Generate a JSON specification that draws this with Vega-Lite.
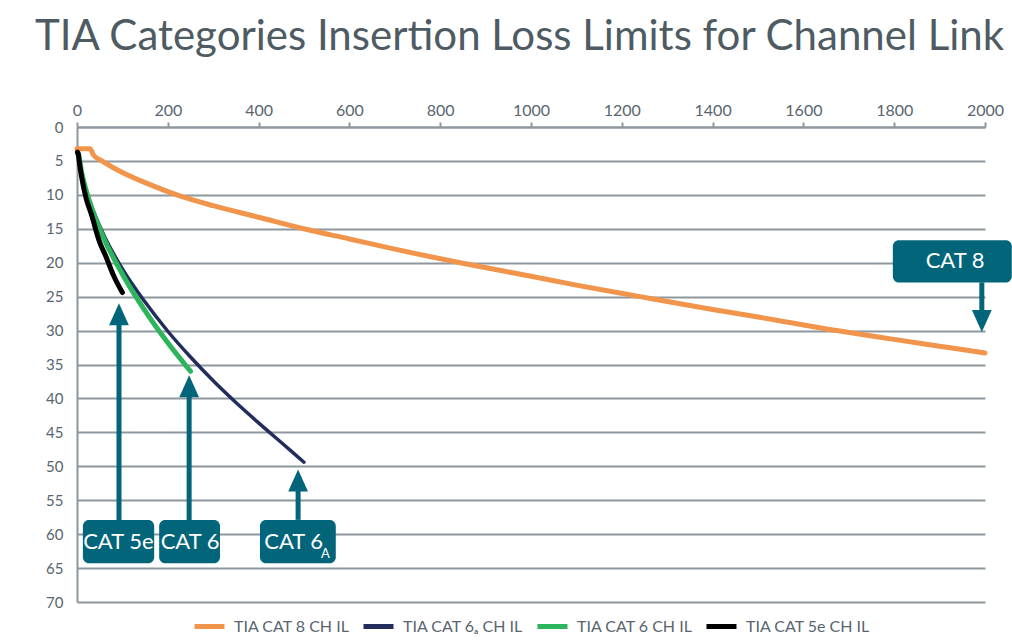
{
  "$schema": "https://vega.github.io/schema/vega-lite/v6.json",
  "width": 908,
  "height": 475,
  "autosize": {"type": "none"},
  "padding": {"left": 77, "top": 127, "right": 27, "bottom": 41},
  "background": "white",
  "config": {
    "view": {"stroke": null},
    "font": "Lato",
    "axis": {"labelFont": "Lato", "labelColor": "#59656E", "labelFontSize": 16, "domainColor": "#8E979E", "domainWidth": 2, "tickColor": "#8E979E", "tickWidth": 2, "gridColor": "#8E979E", "gridWidth": 2, "title": null, "labelOverlap": false, "labelFlush": false}
  },
  "title": {
    "text": "TIA Categories Insertion Loss Limits for Channel Link",
    "anchor": "start",
    "frame": "group",
    "dx": -42,
    "offset": 10,
    "baseline": "alphabetic",
    "font": "Lato",
    "fontSize": 42,
    "fontWeight": "normal",
    "color": "#4E5B63"
  },
  "datasets": {
    "curves": [
      {"series": "CAT 8", "f": 0, "il": 3.2},
      {"series": "CAT 8", "f": 29, "il": 3.2},
      {"series": "CAT 8", "f": 36, "il": 4.1},
      {"series": "CAT 8", "f": 55, "il": 5.0},
      {"series": "CAT 8", "f": 80, "il": 6.0},
      {"series": "CAT 8", "f": 100, "il": 6.7},
      {"series": "CAT 8", "f": 150, "il": 8.2},
      {"series": "CAT 8", "f": 220, "il": 10.0},
      {"series": "CAT 8", "f": 300, "il": 11.6},
      {"series": "CAT 8", "f": 400, "il": 13.3},
      {"series": "CAT 8", "f": 499, "il": 15.0},
      {"series": "CAT 8", "f": 600, "il": 16.5},
      {"series": "CAT 8", "f": 700, "il": 18.0},
      {"series": "CAT 8", "f": 844, "il": 20.0},
      {"series": "CAT 8", "f": 1000, "il": 22.0},
      {"series": "CAT 8", "f": 1100, "il": 23.3},
      {"series": "CAT 8", "f": 1240, "il": 25.0},
      {"series": "CAT 8", "f": 1400, "il": 26.9},
      {"series": "CAT 8", "f": 1500, "il": 28.0},
      {"series": "CAT 8", "f": 1673, "il": 30.0},
      {"series": "CAT 8", "f": 1800, "il": 31.3},
      {"series": "CAT 8", "f": 1900, "il": 32.3},
      {"series": "CAT 8", "f": 2000, "il": 33.3},
      {"series": "CAT 6A", "f": 1, "il": 3.9},
      {"series": "CAT 6A", "f": 3, "il": 4.0},
      {"series": "CAT 6A", "f": 4, "il": 4.2},
      {"series": "CAT 6A", "f": 10, "il": 6.5},
      {"series": "CAT 6A", "f": 20, "il": 9.2},
      {"series": "CAT 6A", "f": 31.25, "il": 11.5},
      {"series": "CAT 6A", "f": 50, "il": 14.6},
      {"series": "CAT 6A", "f": 62.5, "il": 16.4},
      {"series": "CAT 6A", "f": 100, "il": 20.9},
      {"series": "CAT 6A", "f": 150, "il": 25.8},
      {"series": "CAT 6A", "f": 200, "il": 30.1},
      {"series": "CAT 6A", "f": 250, "il": 33.9},
      {"series": "CAT 6A", "f": 300, "il": 37.4},
      {"series": "CAT 6A", "f": 350, "il": 40.6},
      {"series": "CAT 6A", "f": 400, "il": 43.6},
      {"series": "CAT 6A", "f": 450, "il": 46.5},
      {"series": "CAT 6A", "f": 500, "il": 49.4},
      {"series": "CAT 6", "f": 1, "il": 3.9},
      {"series": "CAT 6", "f": 3, "il": 4.0},
      {"series": "CAT 6", "f": 4, "il": 4.2},
      {"series": "CAT 6", "f": 10, "il": 6.6},
      {"series": "CAT 6", "f": 20, "il": 9.3},
      {"series": "CAT 6", "f": 31.25, "il": 11.7},
      {"series": "CAT 6", "f": 50, "il": 15.0},
      {"series": "CAT 6", "f": 62.5, "il": 16.9},
      {"series": "CAT 6", "f": 100, "il": 21.7},
      {"series": "CAT 6", "f": 150, "il": 27.1},
      {"series": "CAT 6", "f": 200, "il": 31.8},
      {"series": "CAT 6", "f": 250, "il": 36.0},
      {"series": "CAT 5e", "f": 1, "il": 3.7},
      {"series": "CAT 5e", "f": 3, "il": 4.0},
      {"series": "CAT 5e", "f": 4, "il": 4.6},
      {"series": "CAT 5e", "f": 10, "il": 7.3},
      {"series": "CAT 5e", "f": 20, "il": 10.5},
      {"series": "CAT 5e", "f": 31.25, "il": 12.8},
      {"series": "CAT 5e", "f": 50, "il": 17.0},
      {"series": "CAT 5e", "f": 62.5, "il": 18.9},
      {"series": "CAT 5e", "f": 80, "il": 21.8},
      {"series": "CAT 5e", "f": 100, "il": 24.4}
    ],
    "boxes": [
      {"label": "CAT 5e", "x1": 13, "x2": 170, "y1": 57.9, "y2": 64.3, "tx": 91, "ty": 61.1},
      {"label": "CAT 6", "x1": 181, "x2": 315, "y1": 57.9, "y2": 64.3, "tx": 249, "ty": 61.1},
      {"label": "CAT 6", "x1": 403, "x2": 570, "y1": 57.9, "y2": 64.3, "tx": 477, "ty": 61.1},
      {"label": "CAT 8", "x1": 1797, "x2": 2059, "y1": 16.7, "y2": 22.9, "tx": 1934, "ty": 19.8}
    ],
    "subs": [
      {"label": "A", "tx": 547, "ty": 62.9}
    ],
    "shafts": [
      {"ax": 92.5, "a1": 28, "a2": 57.9, "dir": "up", "hy": 27.6},
      {"ax": 247, "a1": 38.5, "a2": 57.9, "dir": "up", "hy": 38.2},
      {"ax": 487, "a1": 52.5, "a2": 57.9, "dir": "up", "hy": 52.1},
      {"ax": 1993, "a1": 22.9, "a2": 28.3, "dir": "down", "hy": 28.6}
    ]
  },
  "layer": [
    {
      "data": {"name": "curves"},
      "mark": {"type": "line", "interpolate": "monotone", "strokeCap": "round"},
      "encoding": {
        "x": {"field": "f", "type": "quantitative", "scale": {"domain": [0, 2000], "nice": false}, "axis": {"orient": "top", "values": [0, 200, 400, 600, 800, 1000, 1200, 1400, 1600, 1800, 2000], "format": "d", "grid": false, "tickSize": 5, "labelPadding": 4}},
        "y": {"field": "il", "type": "quantitative", "scale": {"domain": [0, 70], "reverse": true, "nice": false}, "axis": {"values": [0, 5, 10, 15, 20, 25, 30, 35, 40, 45, 50, 55, 60, 65, 70], "grid": true, "ticks": false, "labelPadding": 14, "labelFontSize": 15}},
        "color": {
          "field": "series", "type": "nominal",
          "scale": {"domain": ["CAT 8", "CAT 6A", "CAT 6", "CAT 5e"], "range": ["#F0954B", "#222D5C", "#2DB55D", "#000000"]},
          "legend": {
            "orient": "none", "legendX": 115, "legendY": 482, "direction": "horizontal", "title": null,
            "symbolType": "stroke", "symbolStrokeWidth": 5, "symbolSize": 900, "gridAlign": "none",
            "labelFont": "Lato", "labelFontSize": 16, "labelColor": "#59656E", "labelOffset": 7, "columnPadding": 3,
            "labelExpr": "datum.label == 'CAT 6A' ? 'TIA CAT 6ₐ CH IL' : 'TIA ' + datum.label + ' CH IL'"
          }
        },
        "strokeWidth": {"condition": {"test": "datum.series == 'CAT 6A'", "value": 3.5}, "value": 5}
      }
    },
    {
      "data": {"name": "shafts"},
      "mark": {"type": "rule", "color": "#03657A", "strokeWidth": 5},
      "encoding": {
        "x": {"field": "ax", "type": "quantitative", "axis": {"orient": "top", "values": [0, 200, 400, 600, 800, 1000, 1200, 1400, 1600, 1800, 2000], "format": "d", "grid": false, "tickSize": 5, "labelPadding": 4}},
        "y": {"field": "a1", "type": "quantitative", "axis": {"values": [0, 5, 10, 15, 20, 25, 30, 35, 40, 45, 50, 55, 60, 65, 70], "grid": true, "ticks": false, "labelPadding": 14, "labelFontSize": 15}},
        "y2": {"field": "a2"}
      }
    },
    {
      "data": {"name": "shafts"},
      "transform": [{"filter": "datum.dir == 'up'"}],
      "mark": {"type": "point", "shape": "M0,-1L-0.9,1L0.9,1Z", "filled": true, "color": "#03657A", "opacity": 1, "size": 484},
      "encoding": {
        "x": {"field": "ax", "type": "quantitative", "axis": {"orient": "top", "values": [0, 200, 400, 600, 800, 1000, 1200, 1400, 1600, 1800, 2000], "format": "d", "grid": false, "tickSize": 5, "labelPadding": 4}},
        "y": {"field": "hy", "type": "quantitative", "axis": {"values": [0, 5, 10, 15, 20, 25, 30, 35, 40, 45, 50, 55, 60, 65, 70], "grid": true, "ticks": false, "labelPadding": 14, "labelFontSize": 15}}
      }
    },
    {
      "data": {"name": "shafts"},
      "transform": [{"filter": "datum.dir == 'down'"}],
      "mark": {"type": "point", "shape": "M0,1L-0.9,-1L0.9,-1Z", "filled": true, "color": "#03657A", "opacity": 1, "size": 484},
      "encoding": {
        "x": {"field": "ax", "type": "quantitative", "axis": {"orient": "top", "values": [0, 200, 400, 600, 800, 1000, 1200, 1400, 1600, 1800, 2000], "format": "d", "grid": false, "tickSize": 5, "labelPadding": 4}},
        "y": {"field": "hy", "type": "quantitative", "axis": {"values": [0, 5, 10, 15, 20, 25, 30, 35, 40, 45, 50, 55, 60, 65, 70], "grid": true, "ticks": false, "labelPadding": 14, "labelFontSize": 15}}
      }
    },
    {
      "data": {"name": "boxes"},
      "mark": {"type": "rect", "color": "#03657A", "cornerRadius": 6},
      "encoding": {
        "x": {"field": "x1", "type": "quantitative", "axis": {"orient": "top", "values": [0, 200, 400, 600, 800, 1000, 1200, 1400, 1600, 1800, 2000], "format": "d", "grid": false, "tickSize": 5, "labelPadding": 4}},
        "x2": {"field": "x2"},
        "y": {"field": "y1", "type": "quantitative", "axis": {"values": [0, 5, 10, 15, 20, 25, 30, 35, 40, 45, 50, 55, 60, 65, 70], "grid": true, "ticks": false, "labelPadding": 14, "labelFontSize": 15}},
        "y2": {"field": "y2"}
      }
    },
    {
      "data": {"name": "boxes"},
      "mark": {"type": "text", "color": "white", "font": "Lato", "fontSize": 22, "align": "center", "baseline": "middle"},
      "encoding": {
        "x": {"field": "tx", "type": "quantitative", "axis": {"orient": "top", "values": [0, 200, 400, 600, 800, 1000, 1200, 1400, 1600, 1800, 2000], "format": "d", "grid": false, "tickSize": 5, "labelPadding": 4}},
        "y": {"field": "ty", "type": "quantitative", "axis": {"values": [0, 5, 10, 15, 20, 25, 30, 35, 40, 45, 50, 55, 60, 65, 70], "grid": true, "ticks": false, "labelPadding": 14, "labelFontSize": 15}},
        "text": {"field": "label"}
      }
    },
    {
      "data": {"name": "subs"},
      "mark": {"type": "text", "color": "white", "font": "Lato", "fontSize": 13, "align": "center", "baseline": "middle"},
      "encoding": {
        "x": {"field": "tx", "type": "quantitative", "axis": {"orient": "top", "values": [0, 200, 400, 600, 800, 1000, 1200, 1400, 1600, 1800, 2000], "format": "d", "grid": false, "tickSize": 5, "labelPadding": 4}},
        "y": {"field": "ty", "type": "quantitative", "axis": {"values": [0, 5, 10, 15, 20, 25, 30, 35, 40, 45, 50, 55, 60, 65, 70], "grid": true, "ticks": false, "labelPadding": 14, "labelFontSize": 15}},
        "text": {"field": "label"}
      }
    }
  ]
}
